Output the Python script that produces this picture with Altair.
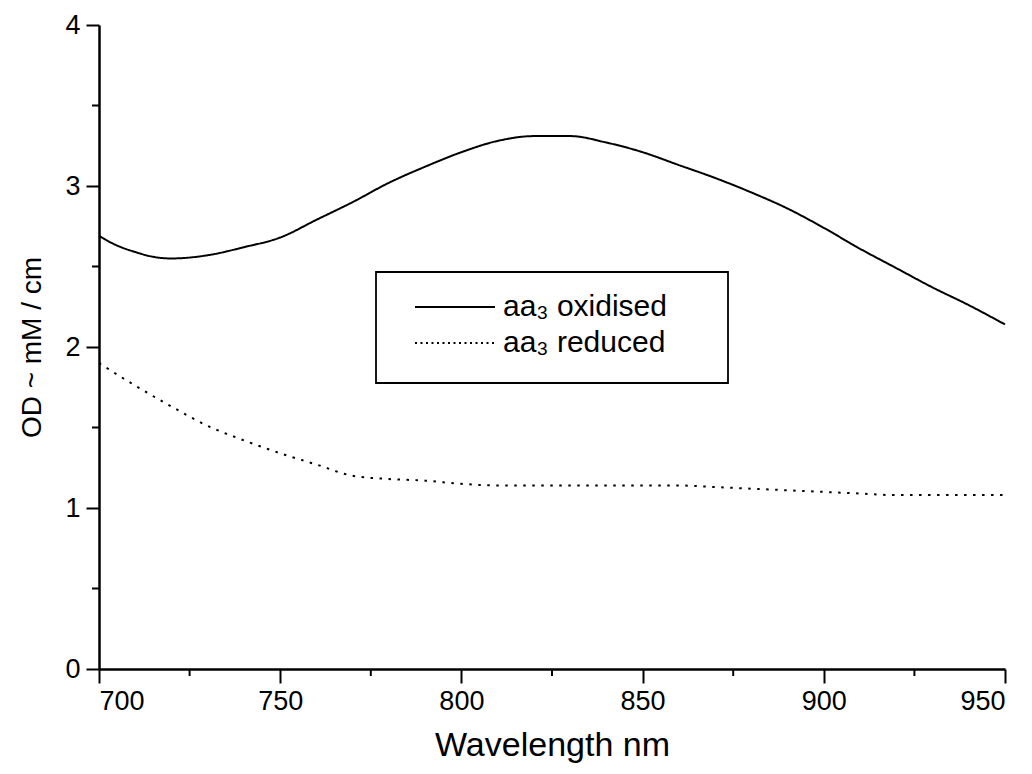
import altair as alt
import pandas as pd

# ---- data ----
wl_ox = [700, 705, 710, 715, 720, 730, 740, 750, 760, 770, 780, 790, 800, 810,
         820, 830, 840, 850, 860, 870, 880, 890, 900, 910, 920, 930, 940, 950]
od_ox = [2.69, 2.63, 2.59, 2.56, 2.55, 2.57, 2.62, 2.68, 2.79, 2.90, 3.02, 3.12,
         3.21, 3.28, 3.31, 3.31, 3.27, 3.21, 3.13, 3.05, 2.96, 2.86, 2.74, 2.61,
         2.49, 2.37, 2.26, 2.14]

wl_red = [700, 710, 720, 730, 740, 750, 760, 770, 780, 790, 800, 810, 820, 830,
          840, 850, 860, 870, 880, 890, 900, 910, 920, 930, 940, 950]
od_red = [1.90, 1.76, 1.63, 1.51, 1.42, 1.34, 1.27, 1.20, 1.18, 1.17, 1.15, 1.14,
          1.14, 1.14, 1.14, 1.14, 1.14, 1.13, 1.12, 1.11, 1.10, 1.09, 1.08, 1.08,
          1.08, 1.08]

series_names = ["aa\u2083 oxidised", "aa\u2083 reduced"]
x_major = [700, 750, 800, 850, 900, 950]
x_minor = [725, 775, 825, 875, 925]
y_major = [0, 1, 2, 3, 4]
y_minor = [0.5, 1.5, 2.5, 3.5]

W, H = 906, 644
FONT = "Liberation Sans"
SOLID = [1, 0]
DOTTED = [2.5, 6.5]

df = pd.concat([
    pd.DataFrame({"wl": wl_ox, "od": od_ox, "series": series_names[0]}),
    pd.DataFrame({"wl": wl_red, "od": od_red, "series": series_names[1]}),
])

xscale = alt.Scale(domain=[700, 950], nice=False, zero=False)
yscale = alt.Scale(domain=[0, 4], nice=False)

lines = alt.Chart(df).mark_line(color="black", strokeWidth=2, interpolate="monotone").encode(
    x=alt.X("wl:Q", scale=xscale,
            axis=alt.Axis(values=x_major, format="d", title="Wavelength nm",
                          tickSize=14, labelPadding=5, titlePadding=14,
                          titleFontSize=34, labelFontSize=27)),
    y=alt.Y("od:Q", scale=yscale,
            axis=alt.Axis(values=y_major, format="d", title="OD ~ mM / cm",
                          tickSize=13, labelPadding=6, titlePadding=18,
                          titleFontSize=28, labelFontSize=27)),
    strokeDash=alt.StrokeDash(
        "series:N",
        scale=alt.Scale(domain=series_names, range=[SOLID, DOTTED]),
        legend=None,
    ),
)

xminor = alt.Chart(pd.DataFrame({"wl": x_minor})).mark_rule(color="black", strokeWidth=2).encode(
    x=alt.X("wl:Q", scale=xscale),
    y=alt.value(H),
    y2=alt.value(H + 7),
)

yminor = alt.Chart(pd.DataFrame({"od": y_minor})).mark_rule(color="black", strokeWidth=2).encode(
    y=alt.Y("od:Q", scale=yscale),
    x=alt.value(0),
    x2=alt.value(-7),
)

# ---- hand-drawn legend box (as in the reference) ----
leg_src = alt.Chart(pd.DataFrame({"k": [0]}))
leg_box = leg_src.mark_rect(fill="white", stroke="black", strokeWidth=1.8).encode(
    x=alt.value(277), x2=alt.value(629), y=alt.value(247), y2=alt.value(358)
)
leg_layers = [leg_box]
for i, (name, dash) in enumerate(zip(series_names, [SOLID, [2, 3.5]])):
    ypos = 282 + 36 * i
    leg_layers.append(
        leg_src.mark_rule(color="black", strokeWidth=1.8, strokeDash=dash).encode(
            x=alt.value(316), x2=alt.value(396), y=alt.value(ypos)
        )
    )
    leg_layers.append(
        alt.Chart(pd.DataFrame({"label": [name]})).mark_text(
            align="left", baseline="middle", font=FONT, fontSize=30, color="black"
        ).encode(x=alt.value(404), y=alt.value(ypos), text="label:N")
    )

chart = alt.layer(lines, xminor, yminor, *leg_layers).properties(
    width=W, height=H,
    autosize=alt.AutoSizeParams(type="none"),
    padding={"left": 99, "top": 25, "right": 27, "bottom": 105},
).configure_view(stroke=None).configure_axis(
    grid=False, domainColor="black", domainWidth=2.5, tickColor="black",
    tickWidth=2, labelColor="black", titleColor="black", labelFont=FONT,
    titleFont=FONT, titleFontWeight="normal",
)

chart.save("out.html", embed_options={"renderer": "svg", "actions": False})
